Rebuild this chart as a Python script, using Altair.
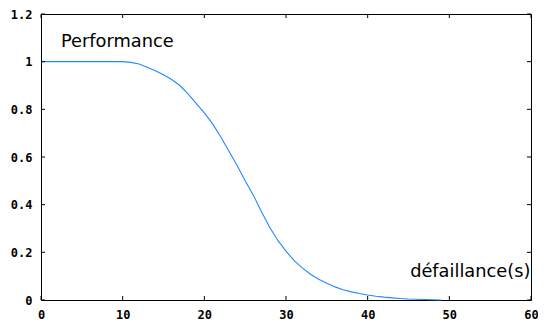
import altair as alt
import pandas as pd

# Data
xs = list(range(0, 50))
perf = [1.0, 1.0, 1.0, 1.0, 1.0, 1.0, 1.0, 1.0, 1.0, 1.0,
        1.0, 0.997, 0.99, 0.977, 0.962, 0.945, 0.925, 0.90, 0.865, 0.825,
        0.785, 0.74, 0.685, 0.625, 0.565, 0.50, 0.44, 0.37, 0.305, 0.25,
        0.205, 0.165, 0.135, 0.108, 0.087, 0.07, 0.055, 0.043, 0.034, 0.027,
        0.021, 0.016, 0.012, 0.009, 0.006, 0.004, 0.003, 0.002, 0.001, 0.0]
x_ticks = [0, 10, 20, 30, 40, 50, 60]
y_ticks = [0, 0.2, 0.4, 0.6, 0.8, 1.0, 1.2]
labels = ["Performance", "défaillance(s)"]
label_x = [2.45, 45.2]
label_y = [1.06, 0.096]

W, H = 490, 286
TICK = 4
FG = "#000000"

df = pd.DataFrame({"x": xs, "y": perf})
xt = pd.DataFrame({"x": x_ticks})
yt = pd.DataFrame({"y": y_ticks})
lab = pd.DataFrame({"t": labels, "x": label_x, "y": label_y})

xscale = alt.Scale(domain=[0, 60], nice=False, zero=False)
yscale = alt.Scale(domain=[0, 1.2], nice=False, zero=False)

axis_common = dict(domain=False, ticks=False, grid=False, title=None,
                   labelFont="DejaVu Sans Mono", labelFontWeight="bold",
                   labelFontSize=12, labelColor="#000000",
                   labelFlush=False, labelOverlap=False)
x_axis = alt.Axis(values=x_ticks, format="d", labelPadding=9, **axis_common)
y_axis = alt.Axis(values=y_ticks, format="~g", labelPadding=9, **axis_common)


def X():
    return alt.X("x:Q", scale=xscale, axis=x_axis, title=None)


def Y():
    return alt.Y("y:Q", scale=yscale, axis=y_axis, title=None)


line = alt.Chart(df).mark_line(color="#2288ff", strokeWidth=1.1).encode(x=X(), y=Y())

xt_bottom = alt.Chart(xt).mark_rule(color=FG, strokeWidth=1).encode(
    x=X(), y=alt.value(H), y2=alt.value(H - TICK))
xt_top = alt.Chart(xt).mark_rule(color=FG, strokeWidth=1).encode(
    x=X(), y=alt.value(0), y2=alt.value(TICK))
yt_left = alt.Chart(yt).mark_rule(color=FG, strokeWidth=1).encode(
    y=Y(), x=alt.value(0), x2=alt.value(TICK))
yt_right = alt.Chart(yt).mark_rule(color=FG, strokeWidth=1).encode(
    y=Y(), x=alt.value(W), x2=alt.value(W - TICK))

text = alt.Chart(lab).mark_text(font="DejaVu Sans", fontSize=17.8, align="left",
                                baseline="alphabetic", color="#000000").encode(
    x=X(), y=Y(), text="t:N")

chart = alt.layer(line, xt_bottom, xt_top, yt_left, yt_right, text).properties(
    width=W, height=H,
    autosize=alt.AutoSizeParams(type="none"),
    padding={"left": 33, "top": 6, "right": 7, "bottom": 22},
).configure_view(stroke=FG, strokeWidth=1)

chart.save("out.html", embed_options={"renderer": "svg", "actions": False})
